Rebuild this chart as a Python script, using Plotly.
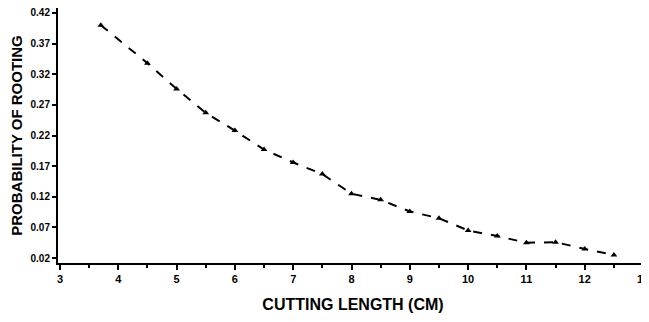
import plotly.graph_objects as go

cutting_length = [3.7, 4.5, 5.0, 5.5, 6.0, 6.5, 7.0, 7.5, 8.0, 8.5, 9.0, 9.5, 10.0, 10.5, 11.0, 11.5, 12.0, 12.5]
prob_rooting = [0.400, 0.338, 0.296, 0.257, 0.228, 0.197, 0.176, 0.157, 0.125, 0.115, 0.096, 0.085, 0.065, 0.056, 0.045, 0.046, 0.035, 0.025]
x_ticks = list(range(3, 14))
y_ticks = [0.02, 0.07, 0.12, 0.17, 0.22, 0.27, 0.32, 0.37, 0.42]

fig = go.Figure()
fig.add_trace(go.Scatter(
    x=cutting_length, y=prob_rooting, mode="lines+markers",
    line=dict(color="black", width=2, dash="dash"),
    marker=dict(symbol="triangle-up", size=6, color="black"),
    showlegend=False, cliponaxis=False,
))

# page body has an 8px default margin, so the figure is sized/offset to compensate
fig.update_layout(
    width=641, height=314,
    margin=dict(l=50, r=1, t=0, b=59),
    plot_bgcolor="white", paper_bgcolor="white",
    font=dict(family="Liberation Sans, Arial, sans-serif", color="black"),
)
fig.update_xaxes(
    range=[2.966, 13.085], tickvals=x_ticks, ticktext=[f"<b>{v}</b>" for v in x_ticks],
    ticks="outside", ticklen=5, tickwidth=1.5, tickcolor="black",
    minor=dict(dtick=0.5, ticks="outside", ticklen=3, tickcolor="black"),
    showline=True, linecolor="black", linewidth=2, showgrid=False, zeroline=False,
    tickfont=dict(size=11, family="Liberation Sans", color="black"),
    ticklabeloverflow="allow",
    automargin=False,
    title=dict(text="<b>CUTTING LENGTH (CM)</b>", font=dict(size=16, color="black"), standoff=15),
)
fig.update_yaxes(
    range=[0.012, 0.428], tickvals=y_ticks, ticktext=[f"<b>{v:.2f}</b>" for v in y_ticks],
    ticks="outside", ticklen=4, tickwidth=1.5, tickcolor="black",
    showline=True, linecolor="black", linewidth=2, showgrid=False, zeroline=False,
    tickfont=dict(size=10, family="Liberation Sans", color="black"),
    ticklabeloverflow="allow",
    automargin=False,
    title=dict(text="<b>PROBABILITY OF ROOTING</b>", font=dict(size=15, color="black"), standoff=4),
)
fig.write_html("out.html")
